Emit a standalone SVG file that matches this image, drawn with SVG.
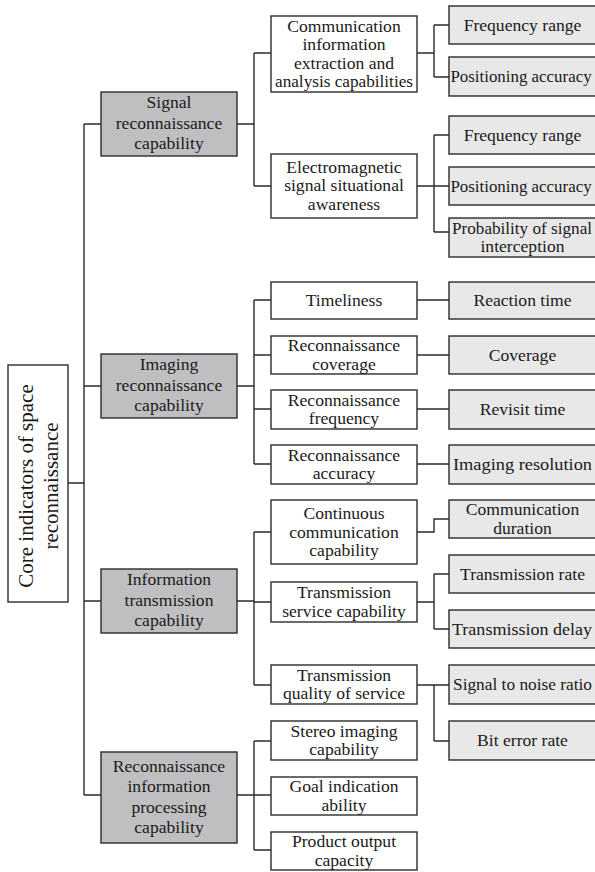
<svg xmlns="http://www.w3.org/2000/svg" width="595" height="872" viewBox="0 0 595 872">
  <style>
    .box { stroke: #2b2b2b; stroke-width: 1.4; }
    .root { fill: #ffffff; }
    .l1 { fill: #bfbfc1; }
    .l2 { fill: #ffffff; }
    .l3 { fill: #e8e8e8; }
    .labels text { fill: #1a1a1a; text-anchor: middle; }
    .t1, .t2, .t3 { font-size: 17.6px; }
    .t3.tight { font-size: 16.9px; }
    .t0 { font-size: 21px; }
    .links path { fill: none; stroke: #2b2b2b; stroke-width: 1.4; }
  </style>

  <rect width="595" height="872" fill="#ffffff"/>

  <!-- connectors -->
  <g class="links">
    <!-- root to capability groups -->
    <path d="M68 483 H84 M84 124 V795 M84 124 H101 M84 386 H101 M84 601 H101 M84 795 H101"/>
    <!-- signal reconnaissance -->
    <path d="M237 124 H254 M254 53 V186 M254 53 H271 M254 186 H271"/>
    <!-- imaging reconnaissance -->
    <path d="M237 386 H254 M254 300 V464 M254 300 H271 M254 355 H271 M254 409 H271 M254 464 H271"/>
    <!-- information transmission -->
    <path d="M237 601 H254 M254 532 V685 M254 532 H271 M254 602 H271 M254 685 H271"/>
    <!-- information processing -->
    <path d="M237 795 H254 M254 741 V850 M254 741 H271 M254 795 H271 M254 850 H271"/>
    <!-- second level to indicators -->
    <path d="M417 53 H434 M434 25 V77 M434 25 H449 M434 77 H449"/>
    <path d="M417 186 H434 M434 135 V232 M434 135 H449 M434 186 H449 M434 232 H449"/>
    <path d="M417 300 H449 M417 355 H449 M417 409 H449 M417 464 H449"/>
    <path d="M417 532 H434 V519 H449"/>
    <path d="M417 602 H434 M434 574 V629 M434 574 H449 M434 629 H449"/>
    <path d="M417 685 H434 M434 685 V741 M434 685 H449 M434 741 H449"/>
  </g>

  <g class="labels" font-family="Liberation Serif, DejaVu Serif, serif">
  <!-- root -->
  <g id="root">
    <rect class="box root" x="8" y="365" width="60" height="237"/>
    <text class="t0" transform="translate(33,486) rotate(-90)"><tspan x="0" y="0">Core indicators of space</tspan><tspan x="0" y="25">reconnaissance</tspan></text>
  </g>

  <!-- capability groups -->
  <g id="signal-recon">
    <rect class="box l1" x="101" y="92" width="136" height="64"/>
    <text class="t1"><tspan x="169" y="108">Signal</tspan><tspan x="169" y="128.5">reconnaissance</tspan><tspan x="169" y="149">capability</tspan></text>
  </g>
  <g id="imaging-recon">
    <rect class="box l1" x="101" y="354" width="136" height="64"/>
    <text class="t1"><tspan x="169" y="370">Imaging</tspan><tspan x="169" y="390.5">reconnaissance</tspan><tspan x="169" y="411">capability</tspan></text>
  </g>
  <g id="info-transmission">
    <rect class="box l1" x="101" y="569" width="136" height="64"/>
    <text class="t1"><tspan x="169" y="585">Information</tspan><tspan x="169" y="605.5">transmission</tspan><tspan x="169" y="626">capability</tspan></text>
  </g>
  <g id="info-processing">
    <rect class="box l1" x="101" y="752" width="136" height="91"/>
    <text class="t1"><tspan x="169" y="771.5">Reconnaissance</tspan><tspan x="169" y="792">information</tspan><tspan x="169" y="812.5">processing</tspan><tspan x="169" y="833">capability</tspan></text>
  </g>

  <!-- second level -->
  <g id="comm-extraction">
    <rect class="box l2" x="271" y="16" width="146" height="76"/>
    <text class="t2"><tspan x="344" y="31.5">Communication</tspan><tspan x="344" y="50">information</tspan><tspan x="344" y="68.5">extraction and</tspan><tspan x="344" y="87" textLength="138" lengthAdjust="spacingAndGlyphs">analysis capabilities</tspan></text>
  </g>
  <g id="em-awareness">
    <rect class="box l2" x="271" y="154" width="146" height="64"/>
    <text class="t2"><tspan x="344" y="172.5">Electromagnetic</tspan><tspan x="344" y="191">signal situational</tspan><tspan x="344" y="209.5">awareness</tspan></text>
  </g>
  <g id="timeliness">
    <rect class="box l2" x="271" y="282" width="146" height="37"/>
    <text class="t2" x="344" y="306">Timeliness</text>
  </g>
  <g id="recon-coverage">
    <rect class="box l2" x="271" y="336" width="146" height="38"/>
    <text class="t2"><tspan x="344" y="351">Reconnaissance</tspan><tspan x="344" y="369.5">coverage</tspan></text>
  </g>
  <g id="recon-frequency">
    <rect class="box l2" x="271" y="390" width="146" height="39"/>
    <text class="t2"><tspan x="344" y="405.5">Reconnaissance</tspan><tspan x="344" y="424">frequency</tspan></text>
  </g>
  <g id="recon-accuracy">
    <rect class="box l2" x="271" y="445" width="146" height="39"/>
    <text class="t2"><tspan x="344" y="460.5">Reconnaissance</tspan><tspan x="344" y="479">accuracy</tspan></text>
  </g>
  <g id="continuous-comm">
    <rect class="box l2" x="271" y="500" width="146" height="64"/>
    <text class="t2"><tspan x="344" y="519">Continuous</tspan><tspan x="344" y="537.5">communication</tspan><tspan x="344" y="556">capability</tspan></text>
  </g>
  <g id="transmission-service">
    <rect class="box l2" x="271" y="582" width="146" height="40"/>
    <text class="t2"><tspan x="344" y="598">Transmission</tspan><tspan x="344" y="616.5">service capability</tspan></text>
  </g>
  <g id="transmission-quality">
    <rect class="box l2" x="271" y="665" width="146" height="39"/>
    <text class="t2"><tspan x="344" y="680.5">Transmission</tspan><tspan x="344" y="699">quality of service</tspan></text>
  </g>
  <g id="stereo-imaging">
    <rect class="box l2" x="271" y="721" width="146" height="39"/>
    <text class="t2"><tspan x="344" y="736.5">Stereo imaging</tspan><tspan x="344" y="755">capability</tspan></text>
  </g>
  <g id="goal-indication">
    <rect class="box l2" x="271" y="777" width="146" height="38"/>
    <text class="t2"><tspan x="344" y="792">Goal indication</tspan><tspan x="344" y="810.5">ability</tspan></text>
  </g>
  <g id="product-output">
    <rect class="box l2" x="271" y="832" width="146" height="38"/>
    <text class="t2"><tspan x="344" y="847">Product output</tspan><tspan x="344" y="865.5">capacity</tspan></text>
  </g>

  <!-- indicators -->
  <g id="freq-range-1">
    <rect class="box l3" x="449" y="6" width="150" height="38"/>
    <text class="t3" x="522.5" y="30.5">Frequency range</text>
  </g>
  <g id="pos-accuracy-1">
    <rect class="box l3" x="449" y="57" width="150" height="39"/>
    <text class="t3 tight" x="521" y="82">Positioning accuracy</text>
  </g>
  <g id="freq-range-2">
    <rect class="box l3" x="449" y="116" width="150" height="38"/>
    <text class="t3" x="522.5" y="140.5">Frequency range</text>
  </g>
  <g id="pos-accuracy-2">
    <rect class="box l3" x="449" y="167" width="150" height="38"/>
    <text class="t3 tight" x="521" y="191.5">Positioning accuracy</text>
  </g>
  <g id="intercept-probability">
    <rect class="box l3" x="449" y="218" width="150" height="39"/>
    <text class="t3"><tspan x="522" y="233.5" textLength="140" lengthAdjust="spacingAndGlyphs">Probability of signal</tspan><tspan x="522.5" y="252">interception</tspan></text>
  </g>
  <g id="reaction-time">
    <rect class="box l3" x="449" y="282" width="150" height="37"/>
    <text class="t3" x="522.5" y="306">Reaction time</text>
  </g>
  <g id="coverage">
    <rect class="box l3" x="449" y="336" width="150" height="38"/>
    <text class="t3" x="522.5" y="360.5">Coverage</text>
  </g>
  <g id="revisit-time">
    <rect class="box l3" x="449" y="390" width="150" height="39"/>
    <text class="t3" x="522.5" y="415">Revisit time</text>
  </g>
  <g id="imaging-resolution">
    <rect class="box l3" x="449" y="445" width="150" height="39"/>
    <text class="t3" x="522.5" y="470" textLength="139" lengthAdjust="spacingAndGlyphs">Imaging resolution</text>
  </g>
  <g id="comm-duration">
    <rect class="box l3" x="449" y="500" width="150" height="38"/>
    <text class="t3"><tspan x="522.5" y="515">Communication</tspan><tspan x="522.5" y="533.5">duration</tspan></text>
  </g>
  <g id="transmission-rate">
    <rect class="box l3" x="449" y="555" width="150" height="38"/>
    <text class="t3" x="522.5" y="579.5">Transmission rate</text>
  </g>
  <g id="transmission-delay">
    <rect class="box l3" x="449" y="610" width="150" height="38"/>
    <text class="t3" x="522" y="634.5" textLength="140" lengthAdjust="spacingAndGlyphs">Transmission delay</text>
  </g>
  <g id="snr">
    <rect class="box l3" x="449" y="665" width="150" height="39"/>
    <text class="t3" x="522.5" y="690" textLength="139" lengthAdjust="spacingAndGlyphs">Signal to noise ratio</text>
  </g>
  <g id="bit-error-rate">
    <rect class="box l3" x="449" y="721" width="150" height="39"/>
    <text class="t3" x="522.5" y="746">Bit error rate</text>
  </g>
  </g>
</svg>
